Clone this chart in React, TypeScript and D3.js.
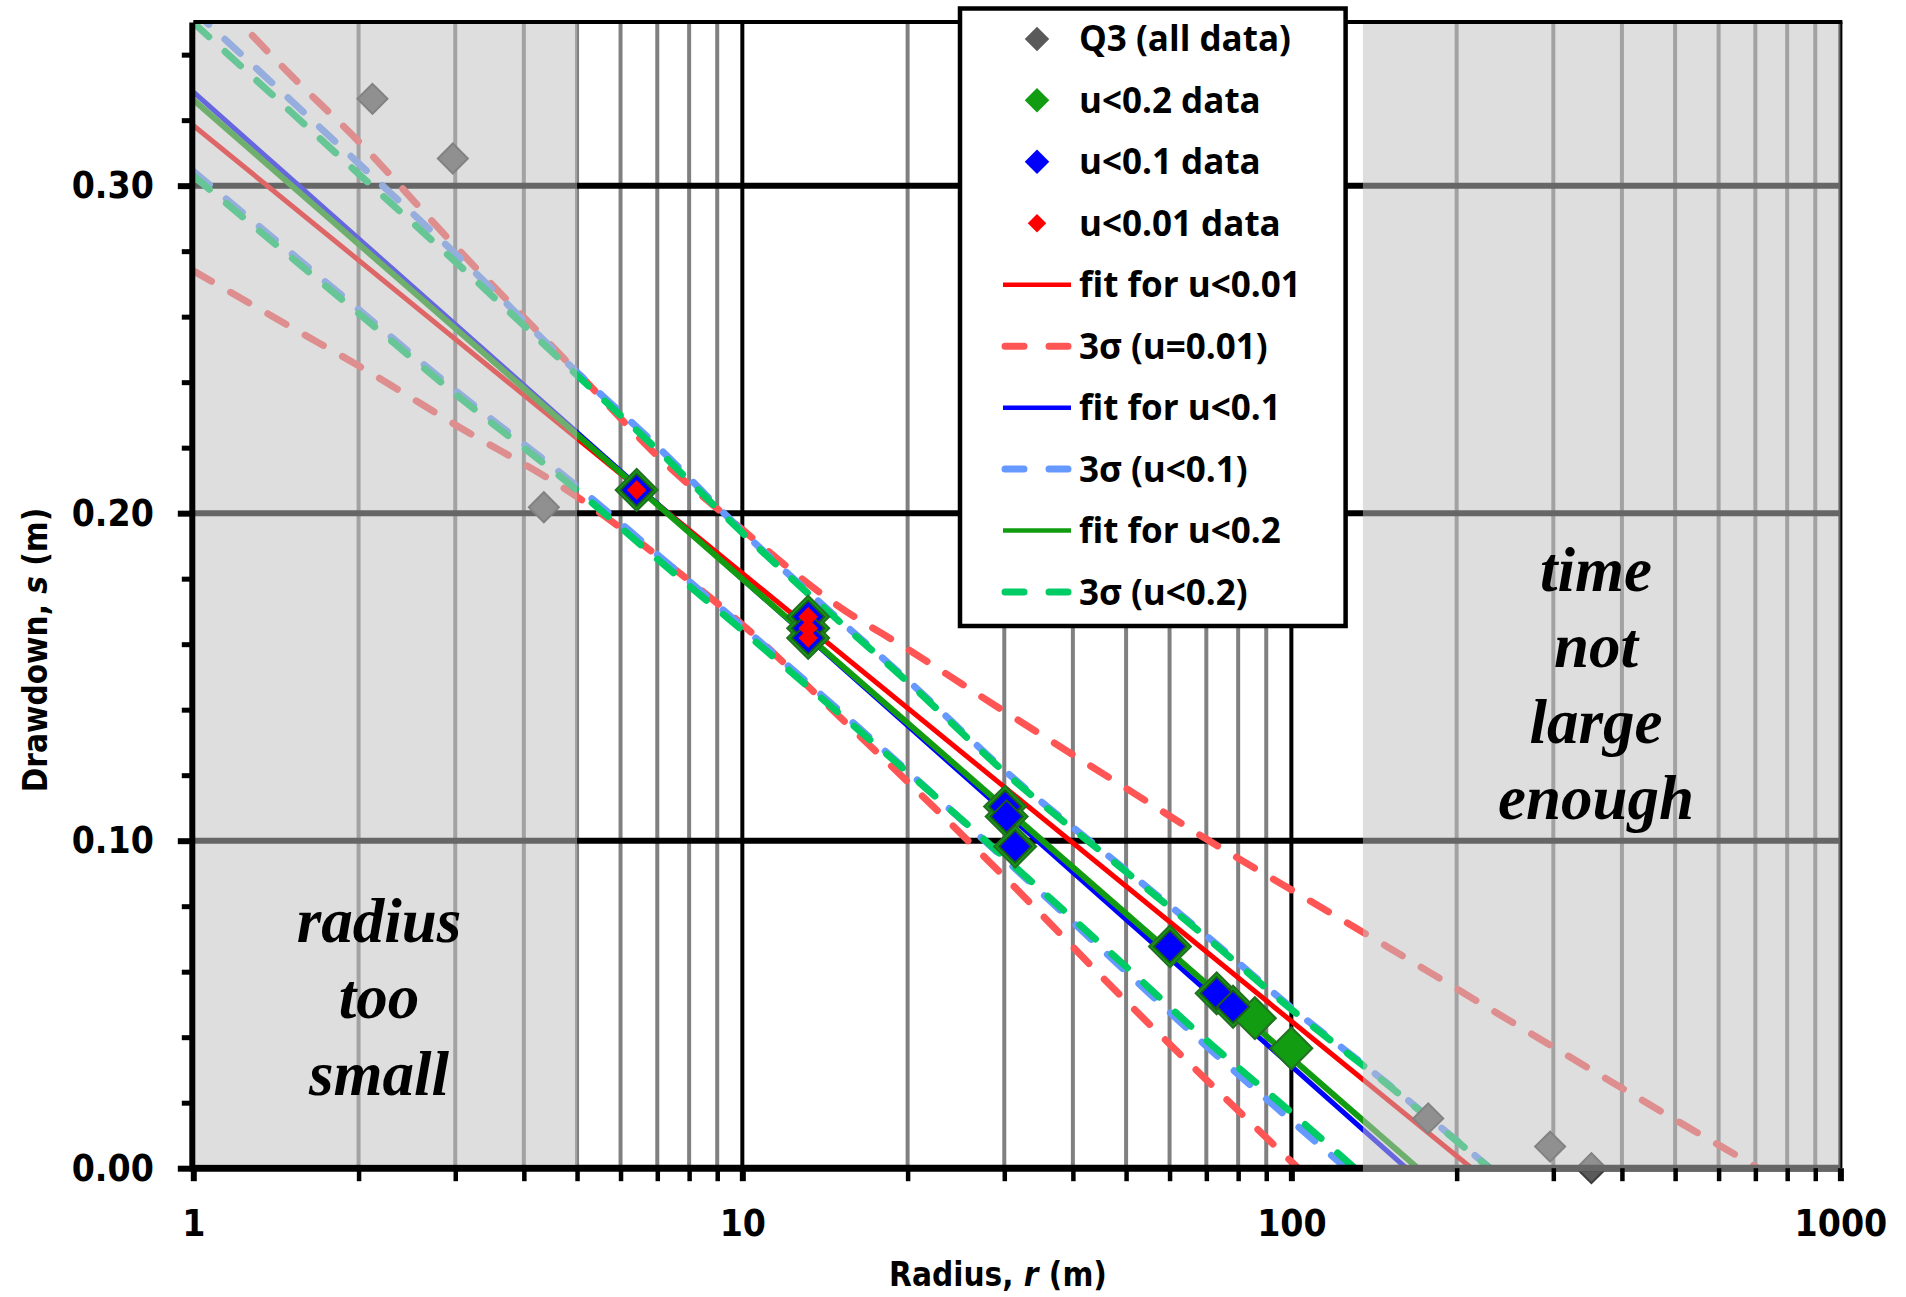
import React, { useEffect, useRef } from 'react';
import * as d3 from 'd3';

const W = 1906;
const H = 1297;

// grid / tick values
const gridMinor = [2, 3, 4, 5, 6, 7, 8, 9, 20, 30, 40, 50, 60, 70, 80, 90, 200, 300, 400, 500, 600, 700, 800, 900];
const gridMajor = [10, 100, 1000];
const xLabels = [1, 10, 100, 1000];
const yMajor = [0, 0.1, 0.2, 0.3];

// shaded zones (radius)
const smallZone = [1, 5];
const lateZone = [135, 1000];

// Q3, all data (points not hidden under the u<0.2 markers)
const q3Radius = [2.12, 2.97, 4.35, 177.5, 296, 352];
const q3Drawdown = [0.3265, 0.3083, 0.2018, 0.0152, 0.0066, 0.0];

const u02Radius = [6.42, 13.18, 13.18, 13.18, 30.1, 30.3, 31.4, 60.1, 73.1, 78.3, 85.8, 100];
const u02Drawdown = [0.2071, 0.1684, 0.1649, 0.1619, 0.1104, 0.1074, 0.0982, 0.0677, 0.0534, 0.0493, 0.0458, 0.0366];

const u01Radius = [6.42, 13.18, 13.18, 13.18, 30.1, 30.3, 31.4, 60.1, 73.1, 78.3];
const u01Drawdown = [0.2071, 0.1684, 0.1649, 0.1619, 0.1104, 0.1074, 0.0982, 0.0677, 0.0534, 0.0493];

const u001Radius = [6.42, 13.18, 13.18, 13.18];
const u001Drawdown = [0.2071, 0.1684, 0.1649, 0.1619];

// fitted straight lines (end points)
const fit001Radius = [1, 213];
const fit001Drawdown = [0.3184, 0];
const fit01Radius = [1, 162];
const fit01Drawdown = [0.3286, 0];
const fit02Radius = [1, 170];
const fit02Drawdown = [0.3262, 0];

// 3 sigma bands
const upperRadius = [1, 1.5, 2, 3, 5, 7, 10, 15, 20, 30, 50, 70, 100, 150, 200, 300, 500, 700, 1000];
const midRadius = [1, 1.5, 2, 3, 5, 7, 10, 15, 20, 30, 50, 70, 100, 150, 200, 300];
const lowerRadius = [1, 1.5, 2, 3, 5, 7, 10, 15, 20, 30, 50, 70, 100, 150];

const red3sUpper = [0.365, 0.334, 0.3135, 0.2815, 0.2431, 0.2175, 0.195, 0.1715, 0.1585, 0.1395, 0.116, 0.1005, 0.085, 0.0675, 0.0548, 0.037, 0.0148, 0.0005, -0.016];
const red3sLower = [0.274, 0.257, 0.245, 0.227, 0.205, 0.187, 0.166, 0.138, 0.118, 0.089, 0.051, 0.027, 0.002, -0.026];
const blue3sUpper = [0.3536, 0.3263, 0.3068, 0.2793, 0.243, 0.2204, 0.1945, 0.1675, 0.149, 0.1215, 0.091, 0.071, 0.049, 0.0257, 0.0085, -0.016];
const blue3sLower = [0.3044, 0.2797, 0.2622, 0.2375, 0.2082, 0.1874, 0.1654, 0.1398, 0.1212, 0.0945, 0.06, 0.0373, 0.0145, -0.011];
const green3sUpper = [0.3498, 0.3228, 0.3036, 0.2768, 0.2421, 0.2194, 0.194, 0.167, 0.1485, 0.121, 0.0905, 0.0705, 0.0485, 0.0254, 0.0083, -0.016];
const green3sLower = [0.303, 0.2784, 0.261, 0.2364, 0.207, 0.186, 0.1642, 0.1389, 0.1209, 0.0949, 0.0615, 0.0391, 0.017, -0.009];

const legendLabels = [
  'Q3 (all data)', 'u<0.2 data', 'u<0.1 data', 'u<0.01 data', 'fit for u<0.01',
  '3σ (u=0.01)', 'fit for u<0.1', '3σ (u<0.1)', 'fit for u<0.2', '3σ (u<0.2)',
];

const C = {
  gray: '#5a5a5a',
  green: '#119c11',
  blue: '#0000ff',
  red: '#ff0000',
  redDash: '#ff5555',
  blueDash: '#6699ff',
  greenDash: '#00cc66',
};

const tickFont = "'DejaVu Sans Condensed', 'DejaVu Sans', sans-serif";

function draw(svg: d3.Selection<SVGSVGElement, unknown, null, undefined>) {
  const x = d3.scaleLog().domain([1, 1000]).range([193.3, 1840.4]);
  const y = d3.scaleLinear().domain([0, 0.35]).range([1168.2, 21.9]);
  const [x0, x1] = x.range();
  const [y0, y1] = y.range();

  svg.append('defs').append('clipPath').attr('id', 'plot')
    .append('rect')
    .attr('x', x0).attr('y', y1)
    .attr('width', x1 - x0).attr('height', y0 - y1);

  // grid
  const grid = svg.append('g');
  grid.selectAll('line.minor').data(gridMinor).join('line')
    .attr('class', 'minor')
    .attr('x1', d => x(d)).attr('x2', d => x(d))
    .attr('y1', y1).attr('y2', y0)
    .attr('stroke', '#808080').attr('stroke-width', 4);
  grid.selectAll('line.major').data(gridMajor).join('line')
    .attr('class', 'major')
    .attr('x1', d => x(d)).attr('x2', d => x(d))
    .attr('y1', y1).attr('y2', y0)
    .attr('stroke', '#000').attr('stroke-width', 4);
  grid.selectAll('line.h').data(yMajor.slice(1)).join('line')
    .attr('class', 'h')
    .attr('x1', x0).attr('x2', x1)
    .attr('y1', d => y(d)).attr('y2', d => y(d))
    .attr('stroke', '#000').attr('stroke-width', 6);

  const line = d3.line<[number, number]>()
    .x(d => x(d[0]))
    .y(d => y(d[1]))
    .curve(d3.curveMonotoneX);

  const plot = svg.append('g').attr('clip-path', 'url(#plot)');

  const bands = [
    { r: upperRadius, s: red3sUpper, color: C.redDash },
    { r: lowerRadius, s: red3sLower, color: C.redDash },
    { r: midRadius, s: blue3sUpper, color: C.blueDash },
    { r: lowerRadius, s: blue3sLower, color: C.blueDash },
    { r: midRadius, s: green3sUpper, color: C.greenDash },
    { r: lowerRadius, s: green3sLower, color: C.greenDash },
  ];
  bands.forEach(b => {
    plot.append('path')
      .attr('d', line(d3.zip(b.r, b.s) as [number, number][]))
      .attr('fill', 'none')
      .attr('stroke', b.color)
      .attr('stroke-width', 7)
      .attr('stroke-linecap', 'round')
      .attr('stroke-dasharray', '21 22');
  });

  const fits = [
    { r: fit001Radius, s: fit001Drawdown, color: C.red, w: 5 },
    { r: fit01Radius, s: fit01Drawdown, color: C.blue, w: 5 },
    { r: fit02Radius, s: fit02Drawdown, color: C.green, w: 6 },
  ];
  fits.forEach(f => {
    plot.append('path')
      .attr('d', line(d3.zip(f.r, f.s) as [number, number][]))
      .attr('fill', 'none')
      .attr('stroke', f.color)
      .attr('stroke-width', f.w);
  });

  // markers
  const diamond = (area: number) => d3.symbol(d3.symbolSquare, area)() as string;
  const markerSets = [
    { r: q3Radius, s: q3Drawdown, fill: C.gray, stroke: '#3c3c3c', area: 450 },
    { r: u02Radius, s: u02Drawdown, fill: C.green, stroke: '#237023', area: 880 },
    { r: u01Radius, s: u01Drawdown, fill: C.blue, stroke: '#1c5a1c', area: 520 },
    { r: u001Radius, s: u001Drawdown, fill: C.red, stroke: 'none', area: 190 },
  ];
  markerSets.forEach(m => {
    svg.append('g').selectAll('path')
      .data(d3.zip(m.r, m.s))
      .join('path')
      .attr('d', diamond(m.area))
      .attr('transform', d => `translate(${x(d[0])},${y(d[1])}) rotate(45)`)
      .attr('fill', m.fill)
      .attr('stroke', m.stroke)
      .attr('stroke-width', 2);
  });

  // bottom axis line
  svg.append('line')
    .attr('x1', x0 - 3).attr('x2', x1)
    .attr('y1', y0).attr('y2', y0)
    .attr('stroke', '#000').attr('stroke-width', 7);

  // shaded zones
  svg.append('rect')
    .attr('x', x(smallZone[0])).attr('y', y1)
    .attr('width', x(smallZone[1]) - x(smallZone[0]))
    .attr('height', y0 - 3.5 - y1)
    .attr('fill', 'rgb(192,192,192)').attr('fill-opacity', 0.53);
  svg.append('rect')
    .attr('x', x(lateZone[0])).attr('y', y1)
    .attr('width', x(lateZone[1]) - x(lateZone[0]))
    .attr('height', y0 + 3.5 - y1)
    .attr('fill', 'rgb(192,192,192)').attr('fill-opacity', 0.53);

  // top border
  svg.append('line')
    .attr('x1', x0).attr('x2', x1 + 2)
    .attr('y1', y1).attr('y2', y1)
    .attr('stroke', '#000').attr('stroke-width', 4);

  // y axis
  const yAxis = d3.axisLeft(y)
    .tickValues(yMajor)
    .tickSize(14)
    .tickSizeOuter(0)
    .tickPadding(24)
    .tickFormat(d => d3.format('.2f')(d as number));
  const yg = svg.append('g').attr('transform', `translate(${x0 - 1.5},0)`).call(yAxis);
  yg.select('.domain').attr('stroke', '#000').attr('stroke-width', 6);
  yg.selectAll('.tick line').attr('stroke', '#000').attr('stroke-width', 6);
  yg.selectAll('.tick text')
    .attr('font-family', tickFont)
    .attr('font-weight', 'bold')
    .attr('font-size', 37)
    .attr('fill', '#000');

  const yMinor = y.ticks(14).filter(t => !yMajor.some(m => Math.abs(m - t) < 1e-9));
  const yMinorAxis = d3.axisLeft(y).tickValues(yMinor).tickSize(10).tickFormat(() => '');
  const ym = svg.append('g').attr('transform', `translate(${x0 - 1.5},0)`).call(yMinorAxis);
  ym.select('.domain').remove();
  ym.selectAll('.tick line').attr('stroke', '#000').attr('stroke-width', 5);

  // x axis ticks
  const xTicks = [1, ...gridMinor, ...gridMajor].sort((a, b) => a - b);
  const xAxis = d3.axisBottom(x)
    .tickValues(xTicks)
    .tickSize(13)
    .tickPadding(29)
    .tickFormat(d => (xLabels.includes(d as number) ? String(d) : ''));
  const xg = svg.append('g').attr('transform', `translate(0,${y0})`).call(xAxis);
  xg.select('.domain').remove();
  xg.selectAll('.tick line')
    .attr('stroke', '#000')
    .attr('stroke-width', (d: any) => (xLabels.includes(d) ? 6 : 4.5));
  xg.selectAll('.tick text')
    .attr('font-family', tickFont)
    .attr('font-weight', 'bold')
    .attr('font-size', 37)
    .attr('fill', '#000');

  // axis titles
  const xt = svg.append('text')
    .attr('x', 998).attr('y', 1286)
    .attr('text-anchor', 'middle')
    .attr('font-family', tickFont)
    .attr('font-weight', 'bold')
    .attr('font-size', 33);
  xt.append('tspan').text('Radius, ');
  xt.append('tspan').attr('font-style', 'italic').text('r');
  xt.append('tspan').text(' (m)');

  const yt = svg.append('text')
    .attr('transform', 'translate(47,650) rotate(-90)')
    .attr('text-anchor', 'middle')
    .attr('font-family', tickFont)
    .attr('font-weight', 'bold')
    .attr('font-size', 33);
  yt.append('tspan').text('Drawdown, ');
  yt.append('tspan').attr('font-style', 'italic').text('s');
  yt.append('tspan').text(' (m)');

  // legend
  const lg = svg.append('g');
  lg.append('rect')
    .attr('x', 960).attr('y', 8.5)
    .attr('width', 385.6).attr('height', 617.5)
    .attr('fill', '#fff').attr('stroke', '#000').attr('stroke-width', 4.5);

  const rowY = (i: number) => 38.9 + i * 61.46;
  const legendMarkers = [
    { fill: C.gray, area: 300 },
    { fill: C.green, area: 300 },
    { fill: C.blue, area: 300 },
    { fill: C.red, area: 170 },
  ];
  legendMarkers.forEach((m, i) => {
    lg.append('path')
      .attr('d', diamond(m.area))
      .attr('transform', `translate(1037,${rowY(i)}) rotate(45)`)
      .attr('fill', m.fill);
  });
  const legendLines = [
    { color: C.red, dash: false },
    { color: C.redDash, dash: true },
    { color: C.blue, dash: false },
    { color: C.blueDash, dash: true },
    { color: C.green, dash: false },
    { color: C.greenDash, dash: true },
  ];
  legendLines.forEach((l, j) => {
    const yy = rowY(j + 4);
    const ln = lg.append('line')
      .attr('x1', l.dash ? 1005 : 1003).attr('x2', l.dash ? 1068 : 1071)
      .attr('y1', yy).attr('y2', yy)
      .attr('stroke', l.color)
      .attr('stroke-width', l.dash ? 7 : 4.5);
    if (l.dash) ln.attr('stroke-linecap', 'round').attr('stroke-dasharray', '19 25');
  });
  lg.selectAll('text.leg').data(legendLabels).join('text')
    .attr('class', 'leg')
    .attr('x', 1079)
    .attr('y', (_, i) => rowY(i) + 12.5)
    .attr('font-family', "'Open Sans', 'Noto Sans', sans-serif")
    .attr('font-weight', 700)
    .attr('font-size', 35)
    .attr('fill', '#000')
    .text(d => d);

  // annotations
  const note = (words: string[], cx: number, ys: number[]) => {
    svg.append('g').selectAll('text').data(words).join('text')
      .attr('x', cx)
      .attr('y', (_, i) => ys[i])
      .attr('text-anchor', 'middle')
      .attr('font-family', "'Liberation Serif', 'Times New Roman', serif")
      .attr('font-weight', 'bold')
      .attr('font-style', 'italic')
      .attr('font-size', 63)
      .attr('fill', '#000')
      .text(d => d);
  };
  note(['radius', 'too', 'small'], 379, [942, 1018, 1095]);
  note(['time', 'not', 'large', 'enough'], 1596, [591, 667, 743, 819]);
}

export default function App() {
  const ref = useRef<SVGSVGElement>(null);

  useEffect(() => {
    document.body.style.margin = '0';
    if (!ref.current) return;
    const svg = d3.select(ref.current);
    svg.selectAll('*').remove();
    draw(svg);
  }, []);

  return <svg ref={ref} width={W} height={H} style={{ display: 'block', background: '#fff' }} />;
}
